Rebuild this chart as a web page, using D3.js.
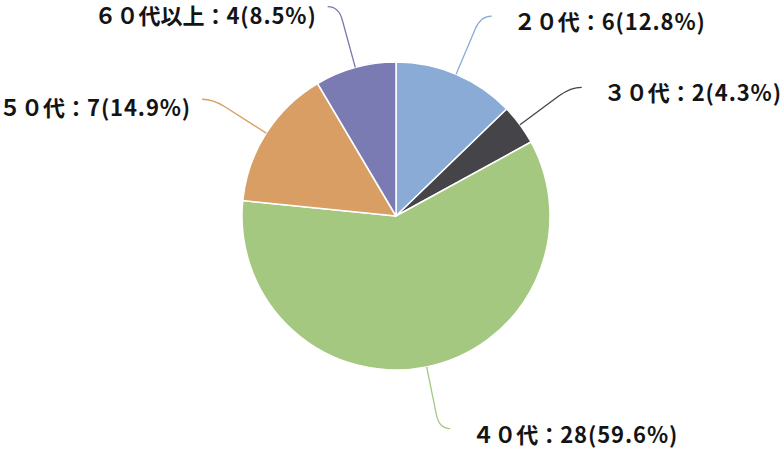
<!DOCTYPE html>
<html><head><meta charset="utf-8">
<script src="https://cdn.jsdelivr.net/npm/d3@7"></script>
<style>html,body{margin:0;padding:0;background:#fff;}</style>
</head><body>
<svg id="chart" width="781" height="452"></svg>
<script>
const categories = ["２０代", "３０代", "４０代", "５０代", "６０代以上"];
const values = [6, 2, 28, 7, 4];
const colors = ["#8aabd6", "#454549", "#a5c880", "#d99e63", "#7a7bb2"];

const W = 781, H = 452, cx = 396, cy = 216, R = 154, Rk = 217;
const total = d3.sum(values);
const data = categories.map((c, i) => ({cat: c, value: values[i], color: colors[i]}));

const svg = d3.select("#chart");
const g = svg.append("g").attr("transform", `translate(${cx},${cy})`);
const pie = d3.pie().value(d => d.value).sort(null);
const arcs = pie(data);
const arc = d3.arc().innerRadius(0).outerRadius(R);

g.selectAll("path.slice").data(arcs).join("path")
  .attr("class", "slice")
  .attr("d", arc)
  .attr("fill", d => d.data.color)
  .attr("stroke", "#fff").attr("stroke-width", 1.5).attr("stroke-linejoin", "round");

arcs.forEach(a => {
  const m = (a.startAngle + a.endAngle) / 2;
  const sx = Math.sin(m), sy = -Math.cos(m);
  const p0 = [R * sx, R * sy];
  const c = [Rk * sx, Rk * sy];
  const pa = [(Rk - 14) * sx, (Rk - 14) * sy];
  const right = sx >= 0;
  const pe = [c[0] + (right ? 11 : -11), c[1]];
  g.append("path")
    .attr("d", `M${p0[0]},${p0[1]}L${pa[0]},${pa[1]}Q${c[0]},${c[1]} ${pe[0]},${pe[1]}`)
    .attr("fill", "none").attr("stroke", a.data.color).attr("stroke-width", 1.3);
  const pct = (a.data.value / total * 100).toFixed(1);
  const t = g.append("text")
    .attr("x", pe[0] + (right ? 22 : -11))
    .attr("y", pe[1] + (right ? 4 : 7))
    .attr("text-anchor", right ? "start" : "end")
    .attr("dominant-baseline", "central")
    .attr("font-family", "'Noto Sans CJK JP', sans-serif")
    .attr("font-weight", "bold")
    .attr("font-size", 22)
    .attr("fill", "#141414");
  t.append("tspan").text(`${a.data.cat}：`);
  t.append("tspan").attr("letter-spacing", 0.9).text(`${a.data.value}(${pct}%)`);
});
</script>
</body></html>
